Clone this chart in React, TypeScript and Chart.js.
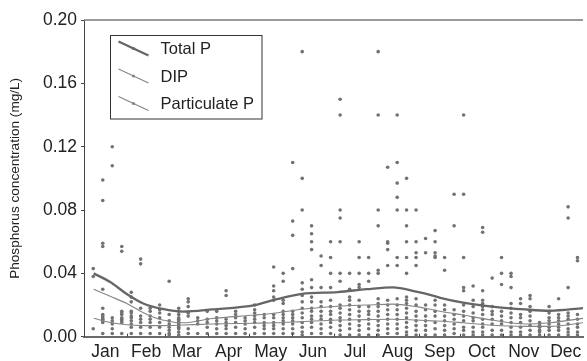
import React, { useEffect, useRef } from "react";
import { Chart, registerables } from "chart.js";

Chart.register(...registerables);

// ---- axis labels ----
const monthLabels = ["Jan", "Feb", "Mar", "Apr", "May", "Jun", "Jul", "Aug", "Sep", "Oct", "Nov", "Dec"];
const monthMidDays = [15.5, 45, 74.5, 105, 135.5, 166, 196.5, 227.5, 258, 288.5, 319, 349.5];
const monthStartDays = [31, 59, 90, 120, 151, 181, 212, 243, 273, 304, 334];
const yTickValues = [0, 0.04, 0.08, 0.12, 0.16, 0.2];
const yTitle = "Phosphorus concentration (mg/L)";

// ---- sampling dates (day of year) ----
const sampleDays = [
  6.7, 13.6, 20.5, 27.4, 34.3, 41.1, 48.0, 54.9, 61.8, 68.7, 75.6, 82.5, 89.4,
  96.3, 103.1, 110.0, 116.9, 123.8, 130.7, 137.6, 144.5, 151.4, 158.3, 165.1,
  172.0, 178.9, 185.8, 192.7, 199.6, 206.5, 213.4, 220.3, 227.2, 234.0, 240.9,
  247.8, 254.7, 261.6, 268.5, 275.4, 282.3, 289.2, 296.1, 302.9, 309.8, 316.7,
  323.6, 330.5, 337.4, 344.3, 351.2, 358.0,
];

// ---- observed concentrations at each sampling date (mg/L) ----
const sampleValues: number[][] = [
  [0.043, 0.038, 0.005],
  [0.099, 0.086, 0.059, 0.057, 0.030, 0.018, 0.014, 0.013, 0.012, 0.011, 0.010, 0.009, 0.002],
  [0.120, 0.108, 0.012, 0.010, 0.008, 0.005, 0.002],
  [0.057, 0.054, 0.016, 0.015, 0.014, 0.012, 0.011, 0.010, 0.009, 0.002],
  [0.028, 0.025, 0.022, 0.016, 0.015, 0.013, 0.012, 0.010, 0.008, 0.006, 0.002],
  [0.049, 0.046, 0.018, 0.013, 0.011, 0.009, 0.006, 0.002],
  [0.018, 0.016, 0.013, 0.011, 0.009, 0.006, 0.002],
  [0.020, 0.017, 0.015, 0.012, 0.009, 0.006, 0.002],
  [0.035, 0.014, 0.010, 0.008, 0.006, 0.004, 0.002, 0.001],
  [0.018, 0.016, 0.014, 0.012, 0.011, 0.010, 0.009, 0.008, 0.007, 0.006, 0.005, 0.003, 0.001],
  [0.024, 0.022, 0.019, 0.015, 0.013, 0.005, 0.002],
  [0.012, 0.010, 0.008, 0.002],
  [0.016, 0.011, 0.009, 0.006, 0.002],
  [0.016, 0.012, 0.010, 0.008, 0.005, 0.002],
  [0.029, 0.026, 0.011, 0.009, 0.007, 0.005, 0.002],
  [0.016, 0.014, 0.012, 0.009, 0.006, 0.002],
  [0.012, 0.010, 0.008, 0.005, 0.002],
  [0.020, 0.017, 0.015, 0.013, 0.011, 0.009, 0.006, 0.002],
  [0.014, 0.012, 0.009, 0.007, 0.005, 0.002],
  [0.044, 0.032, 0.029, 0.025, 0.023, 0.014, 0.012, 0.009, 0.007, 0.005, 0.002],
  [0.040, 0.035, 0.023, 0.021, 0.016, 0.014, 0.012, 0.010, 0.008, 0.005, 0.002],
  [0.110, 0.073, 0.064, 0.043, 0.016, 0.014, 0.012, 0.010, 0.008, 0.005, 0.002],
  [0.180, 0.100, 0.080, 0.034, 0.030, 0.026, 0.022, 0.018, 0.015, 0.012, 0.009, 0.006, 0.003, 0.001],
  [0.070, 0.065, 0.060, 0.055, 0.036, 0.031, 0.025, 0.022, 0.018, 0.016, 0.013, 0.011, 0.009, 0.006, 0.002],
  [0.051, 0.045, 0.031, 0.022, 0.019, 0.016, 0.013, 0.011, 0.008, 0.005, 0.002],
  [0.060, 0.050, 0.040, 0.031, 0.023, 0.019, 0.016, 0.014, 0.011, 0.009, 0.006, 0.002],
  [0.150, 0.140, 0.080, 0.075, 0.060, 0.040, 0.035, 0.020, 0.018, 0.015, 0.012, 0.010, 0.007, 0.004, 0.001],
  [0.040, 0.030, 0.025, 0.023, 0.020, 0.017, 0.014, 0.011, 0.008, 0.005, 0.001],
  [0.060, 0.050, 0.040, 0.033, 0.031, 0.023, 0.019, 0.016, 0.013, 0.010, 0.007, 0.004, 0.001],
  [0.050, 0.040, 0.035, 0.019, 0.016, 0.014, 0.011, 0.008, 0.005, 0.001],
  [0.180, 0.140, 0.080, 0.070, 0.042, 0.040, 0.024, 0.021, 0.019, 0.016, 0.013, 0.010, 0.007, 0.004, 0.001],
  [0.107, 0.060, 0.059, 0.055, 0.045, 0.023, 0.020, 0.017, 0.014, 0.011, 0.008, 0.005, 0.002],
  [0.140, 0.110, 0.097, 0.088, 0.080, 0.050, 0.045, 0.024, 0.020, 0.017, 0.014, 0.011, 0.008, 0.005, 0.002],
  [0.100, 0.080, 0.070, 0.060, 0.050, 0.040, 0.025, 0.023, 0.021, 0.018, 0.015, 0.012, 0.009, 0.006, 0.003, 0.001],
  [0.080, 0.060, 0.053, 0.050, 0.045, 0.024, 0.020, 0.016, 0.013, 0.010, 0.007, 0.004, 0.001],
  [0.062, 0.053, 0.020, 0.017, 0.013, 0.010, 0.007, 0.004, 0.001],
  [0.067, 0.060, 0.053, 0.051, 0.050, 0.023, 0.020, 0.016, 0.013, 0.009, 0.005, 0.001],
  [0.050, 0.042, 0.020, 0.017, 0.013, 0.010, 0.007, 0.004, 0.001],
  [0.090, 0.070, 0.017, 0.014, 0.011, 0.008, 0.005, 0.002],
  [0.140, 0.090, 0.050, 0.031, 0.029, 0.020, 0.016, 0.013, 0.010, 0.006, 0.004, 0.001],
  [0.032, 0.023, 0.019, 0.015, 0.012, 0.010, 0.006, 0.003, 0.001],
  [0.069, 0.066, 0.029, 0.023, 0.021, 0.019, 0.017, 0.014, 0.011, 0.008, 0.006, 0.003, 0.001],
  [0.037, 0.019, 0.016, 0.014, 0.011, 0.008, 0.004, 0.001],
  [0.050, 0.040, 0.033, 0.016, 0.013, 0.010, 0.008, 0.004, 0.001],
  [0.040, 0.038, 0.031, 0.021, 0.018, 0.015, 0.012, 0.009, 0.006, 0.003, 0.001],
  [0.024, 0.021, 0.014, 0.012, 0.009, 0.006, 0.003, 0.001],
  [0.026, 0.024, 0.019, 0.016, 0.013, 0.010, 0.007, 0.004, 0.001],
  [0.009, 0.007, 0.006, 0.004, 0.003, 0.001],
  [0.019, 0.015, 0.012, 0.010, 0.008, 0.006, 0.004, 0.001],
  [0.024, 0.014, 0.012, 0.010, 0.008, 0.006, 0.004, 0.001],
  [0.082, 0.075, 0.031, 0.015, 0.013, 0.011, 0.008, 0.005, 0.003, 0.001],
  [0.050, 0.048, 0.014, 0.011, 0.008, 0.006, 0.003, 0.001],
];

// ---- smoothed seasonal curves (mg/L) ----
const curveDays = [7, 19, 31, 43, 57, 72, 93, 124, 139, 158, 184, 205, 224, 241, 253, 260, 275, 296, 320, 338, 362];
const totalP = [0.040, 0.0345, 0.027, 0.021, 0.0175, 0.0158, 0.0172, 0.020, 0.0235, 0.027, 0.0282, 0.030, 0.0312, 0.0285, 0.026, 0.0242, 0.0215, 0.019, 0.0172, 0.0164, 0.018];
const dip = [0.0116, 0.009, 0.0075, 0.007, 0.007, 0.0074, 0.008, 0.0085, 0.0088, 0.0095, 0.0105, 0.0108, 0.011, 0.0105, 0.010, 0.0098, 0.0088, 0.0072, 0.0065, 0.0065, 0.0088];
const particulateP = [0.030, 0.0255, 0.021, 0.0152, 0.0105, 0.0088, 0.0115, 0.0137, 0.015, 0.0173, 0.0192, 0.020, 0.0206, 0.019, 0.017, 0.0158, 0.0137, 0.0105, 0.008, 0.0088, 0.0116];

const FONT = "'Liberation Sans', Arial, Helvetica, sans-serif";

const framePlugin = {
  id: "frameAndLegend",
  afterDraw(chart: any) {
    const ctx = chart.ctx;
    const area = chart.chartArea;
    const xs = chart.scales.x;
    ctx.save();
    // top frame line
    ctx.strokeStyle = "#7a7a7a";
    ctx.lineWidth = 1.4;
    ctx.beginPath();
    ctx.moveTo(area.left, area.top);
    ctx.lineTo(area.right, area.top);
    ctx.stroke();
    // month boundary tick marks
    ctx.strokeStyle = "#444";
    ctx.lineWidth = 1;
    monthStartDays.forEach((d) => {
      const px = Math.round(xs.getPixelForValue(d)) + 0.5;
      ctx.beginPath();
      ctx.moveTo(px, area.bottom);
      ctx.lineTo(px, area.bottom - 3);
      ctx.stroke();
    });
    // legend
    const boxL = area.left + 26;
    const boxT = area.top + 15;
    const boxW = 151.5;
    const boxH = 83.5;
    ctx.fillStyle = "#fff";
    ctx.fillRect(boxL, boxT, boxW, boxH);
    ctx.strokeStyle = "#333";
    ctx.lineWidth = 1;
    ctx.strokeRect(Math.round(boxL) + 0.5, Math.round(boxT) + 0.5, boxW, boxH);
    const entries = chart.data.datasets.filter((d: any) => d.inLegend);
    entries.forEach((ds: any, i: number) => {
      const cy = boxT + 13.5 + i * 27.5;
      const x1 = boxL + 8.5;
      const x2 = boxL + 38.5;
      ctx.strokeStyle = ds.borderColor;
      ctx.lineWidth = ds.borderWidth;
      ctx.beginPath();
      ctx.moveTo(x1, cy - 7);
      ctx.lineTo(x2, cy + 7);
      ctx.stroke();
      ctx.fillStyle = ds.borderColor;
      ctx.beginPath();
      ctx.arc((x1 + x2) / 2, cy, 1.6, 0, Math.PI * 2);
      ctx.fill();
      ctx.fillStyle = "#222";
      ctx.font = `16.5px ${FONT}`;
      ctx.textBaseline = "middle";
      ctx.textAlign = "left";
      ctx.fillText(ds.label, boxL + 50.5, cy + 1);
    });
    ctx.restore();
  },
};

export default function App() {
  const canvasRef = useRef<HTMLCanvasElement | null>(null);

  useEffect(() => {
    if (!canvasRef.current) return;
    const points: { x: number; y: number }[] = [];
    sampleDays.forEach((d, k) => {
      (sampleValues[k] || []).forEach((v) => points.push({ x: d, y: v }));
    });
    const curve = (vals: number[]) => curveDays.map((d, i) => ({ x: d, y: vals[i] }));

    const chart = new Chart(canvasRef.current, {
      type: "scatter",
      data: {
        datasets: [
          {
            type: "line",
            label: "Total P",
            inLegend: true,
            data: curve(totalP),
            borderColor: "#666666",
            borderWidth: 2.3,
            pointRadius: 0,
            tension: 0.4,
            cubicInterpolationMode: "monotone",
            fill: false,
            order: 1,
          } as any,
          {
            type: "line",
            label: "DIP",
            inLegend: true,
            data: curve(dip),
            borderColor: "#858585",
            borderWidth: 1.1,
            pointRadius: 0,
            tension: 0.4,
            cubicInterpolationMode: "monotone",
            fill: false,
            order: 2,
          } as any,
          {
            type: "line",
            label: "Particulate P",
            inLegend: true,
            data: curve(particulateP),
            borderColor: "#858585",
            borderWidth: 1.1,
            pointRadius: 0,
            tension: 0.4,
            cubicInterpolationMode: "monotone",
            fill: false,
            order: 3,
          } as any,
          {
            label: "Samples",
            data: points,
            backgroundColor: "#727272",
            borderWidth: 0,
            pointRadius: 1.8,
            order: 10,
          } as any,
        ],
      },
      options: {
        animation: false,
        responsive: false,
        maintainAspectRatio: false,
        layout: { padding: { top: 20, right: 0, bottom: 0, left: 0 } },
        plugins: { legend: { display: false }, tooltip: { enabled: false } },
        scales: {
          x: {
            type: "linear",
            min: 0,
            max: 362,
            afterBuildTicks: (scale: any) => {
              scale.ticks = monthMidDays.map((v) => ({ value: v }));
            },
            afterFit: (scale: any) => {
              scale.height = 24.3;
            },
            ticks: {
              autoSkip: false,
              maxRotation: 0,
              padding: 5,
              color: "#222",
              font: { family: FONT, size: 17.5 },
              callback: (_v: any, i: number) => monthLabels[i],
            },
            grid: { display: false, drawTicks: false },
            border: { display: true, color: "#6a6a6a", width: 2 },
          },
          y: {
            min: 0,
            max: 0.2,
            afterBuildTicks: (scale: any) => {
              scale.ticks = yTickValues.map((v) => ({ value: v }));
            },
            afterFit: (scale: any) => {
              scale.width = 84;
            },
            ticks: {
              padding: 4,
              color: "#222",
              font: { family: FONT, size: 17.5 },
              callback: (v: any) => Number(v).toFixed(2),
            },
            grid: { drawOnChartArea: false, drawTicks: true, tickLength: 3, color: "#444" },
            border: { display: true, color: "#444", width: 1 },
            title: {
              display: true,
              text: yTitle,
              color: "#222",
              font: { family: FONT, size: 13.6 },
              padding: { top: 7, bottom: 0 },
            },
          },
        },
      },
      plugins: [framePlugin],
    } as any);
    return () => chart.destroy();
  }, []);

  return (
    <div style={{ position: "fixed", left: 0, top: 0, width: 587, height: 361, background: "#fff" }}>
      <canvas ref={canvasRef} width={587} height={361} style={{ display: "block" }} />
    </div>
  );
}
